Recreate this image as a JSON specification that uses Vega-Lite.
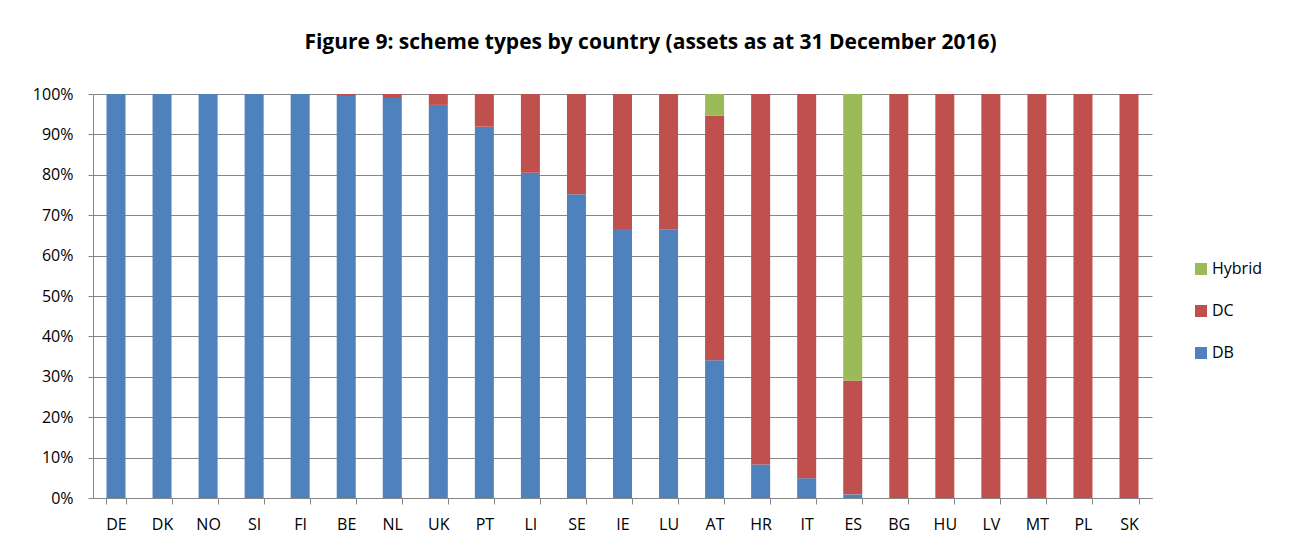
{
  "$schema": "https://vega.github.io/schema/vega-lite/v6.json",
  "autosize": "none",
  "padding": {"left": 93, "top": 94, "right": 141, "bottom": 51},
  "width": 1059,
  "height": 404,
  "background": "white",
  "title": {
    "text": "Figure 9: scheme types by country (assets as at 31 December 2016)",
    "font": "Open Sans",
    "fontSize": 21,
    "fontWeight": "bold",
    "color": "#000000",
    "anchor": "middle",
    "dx": 28,
    "offset": 33
  },
  "data": {
    "values": [
      {"country": "DE", "type": "DB", "share": 1.0},
      {"country": "DK", "type": "DB", "share": 1.0},
      {"country": "NO", "type": "DB", "share": 1.0},
      {"country": "SI", "type": "DB", "share": 1.0},
      {"country": "FI", "type": "DB", "share": 1.0},
      {"country": "BE", "type": "DB", "share": 0.995},
      {"country": "BE", "type": "DC", "share": 0.005},
      {"country": "NL", "type": "DB", "share": 0.99},
      {"country": "NL", "type": "DC", "share": 0.01},
      {"country": "UK", "type": "DB", "share": 0.973},
      {"country": "UK", "type": "DC", "share": 0.027},
      {"country": "PT", "type": "DB", "share": 0.919},
      {"country": "PT", "type": "DC", "share": 0.081},
      {"country": "LI", "type": "DB", "share": 0.805},
      {"country": "LI", "type": "DC", "share": 0.195},
      {"country": "SE", "type": "DB", "share": 0.752},
      {"country": "SE", "type": "DC", "share": 0.248},
      {"country": "IE", "type": "DB", "share": 0.666},
      {"country": "IE", "type": "DC", "share": 0.334},
      {"country": "LU", "type": "DB", "share": 0.665},
      {"country": "LU", "type": "DC", "share": 0.335},
      {"country": "AT", "type": "DB", "share": 0.341},
      {"country": "AT", "type": "DC", "share": 0.605},
      {"country": "AT", "type": "Hybrid", "share": 0.054},
      {"country": "HR", "type": "DB", "share": 0.083},
      {"country": "HR", "type": "DC", "share": 0.917},
      {"country": "IT", "type": "DB", "share": 0.049},
      {"country": "IT", "type": "DC", "share": 0.951},
      {"country": "ES", "type": "DB", "share": 0.009},
      {"country": "ES", "type": "DC", "share": 0.282},
      {"country": "ES", "type": "Hybrid", "share": 0.709},
      {"country": "BG", "type": "DC", "share": 1.0},
      {"country": "HU", "type": "DC", "share": 1.0},
      {"country": "LV", "type": "DC", "share": 1.0},
      {"country": "MT", "type": "DC", "share": 1.0},
      {"country": "PL", "type": "DC", "share": 1.0},
      {"country": "SK", "type": "DC", "share": 1.0}
    ]
  },
  "mark": {"type": "bar"},
  "encoding": {
    "x": {
      "field": "country",
      "type": "nominal",
      "sort": null,
      "title": null,
      "scale": {"paddingInner": 0.587, "paddingOuter": 0.293},
      "axis": {
        "labelAngle": 0,
        "tickBand": "extent",
        "tickSize": 6,
        "tickColor": "#868686",
        "domainColor": "#868686",
        "labelFont": "Open Sans",
        "labelFontSize": 16,
        "labelColor": "#000000",
        "labelPadding": 12,
        "grid": false
      }
    },
    "y": {
      "field": "share",
      "type": "quantitative",
      "stack": "zero",
      "title": null,
      "scale": {"domain": [0, 1], "nice": false},
      "axis": {
        "format": ".0%",
        "values": [0, 0.1, 0.2, 0.3, 0.4, 0.5, 0.6, 0.7, 0.8, 0.9, 1.0],
        "tickSize": 5,
        "tickColor": "#868686",
        "domainColor": "#868686",
        "gridColor": "#868686",
        "gridWidth": 1,
        "labelFont": "Open Sans",
        "labelFontSize": 16,
        "labelColor": "#000000",
        "labelPadding": 15
      }
    },
    "color": {
      "field": "type",
      "type": "nominal",
      "scale": {
        "domain": ["Hybrid", "DC", "DB"],
        "range": ["#9BBB59", "#C0504D", "#4F81BD"]
      },
      "legend": {
        "title": null,
        "orient": "none",
        "legendX": 1100,
        "legendY": 167,
        "symbolType": "square",
        "symbolSize": 144,
        "symbolStrokeWidth": 0,
        "labelFont": "Open Sans",
        "labelFontSize": 16,
        "labelColor": "#000000",
        "labelOffset": 3,
        "rowPadding": 26
      }
    },
    "order": {"field": "type", "sort": "ascending"}
  },
  "config": {
    "view": {"stroke": null}
  }
}
